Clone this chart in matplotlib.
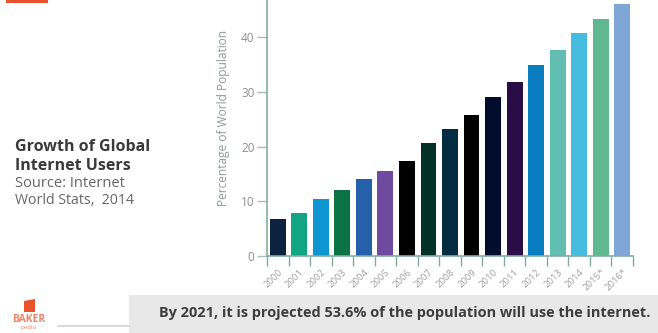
import matplotlib
matplotlib.use('Agg')
import matplotlib.pyplot as plt
from matplotlib.patches import Rectangle, Polygon

years = ['2000', '2001', '2002', '2003', '2004', '2005', '2006', '2007', '2008',
         '2009', '2010', '2011', '2012', '2013', '2014', '2015*', '2016*']
values = [6.8, 7.9, 10.4, 12.1, 14.1, 15.5, 17.4, 20.6, 23.3,
          25.8, 29.1, 31.8, 35.0, 37.7, 40.7, 43.3, 46.0]
bar_colors = ['#0c2340', '#12a583', '#0e96d2', '#0b7245', '#2560ab', '#6f4a9e',
              '#000000', '#04302a', '#032c42', '#000000', '#020c2c', '#2a0d47',
              '#0a7cc0', '#62bdb2', '#45bbde', '#5fb88f', '#7ea6d6']
y_ticks = [0, 10, 20, 30, 40]

W, H = 658, 333
plt.rcParams['font.family'] = ['Open Sans', 'DejaVu Sans']

fig = plt.figure(figsize=(W / 100, H / 100), dpi=100, facecolor='white')

# pixel box of the plot area
left, right, top, bottom = 267, 633, 0, 256
ax = fig.add_axes([left / W, 1 - bottom / H, (right - left) / W, (bottom - top) / H])

ax.bar(range(len(years)), values, width=0.74, color=bar_colors)
ax.set_xlim(-0.5, len(years) - 0.5)
ax.set_ylim(0, 46.8)
ax.patch.set_alpha(0)

axis_color = '#7fae9b'
for s in ['top', 'right']:
    ax.spines[s].set_visible(False)
for s in ['left', 'bottom']:
    ax.spines[s].set_color(axis_color)
    ax.spines[s].set_linewidth(1.2)

# x ticks sit on the bar boundaries, labels under the bars
ax.set_xticks([i - 0.5 for i in range(len(years) + 1)])
ax.set_xticklabels([])
ax.tick_params(axis='x', which='major', length=7, width=1, color=axis_color)
ax.set_xticks(range(len(years)), minor=True)
ax.set_xticklabels(years, minor=True, rotation=45, ha='right', rotation_mode='anchor',
                   fontsize=6.8, color='#a0a0a0')
ax.tick_params(axis='x', which='minor', length=0, pad=8)

ax.set_yticks(y_ticks)
ax.tick_params(axis='y', length=7, width=1, color='#a9bdb5', labelsize=8.5,
               labelcolor='#8f8f8f', pad=2)
ax.set_ylabel('Percentage of World Population', fontsize=8.6, color='#8f9a94')
ax.yaxis.set_label_coords((230 - left) / (right - left), 1 - (118 - top) / (bottom - top))

def px(x, y):
    return x / W, 1 - y / H

# grey strip along the bottom and the rule left of it
fig.patches.append(Rectangle(px(129, 333), (W - 129) / W, 38 / H, transform=fig.transFigure,
                             facecolor='#e8e8e8', edgecolor='none'))
fig.add_artist(plt.Line2D([58 / W, 129 / W], [1 - 326 / H] * 2, color='#d9cfcf', lw=1.2))
fig.text(*px(159, 313), 'By 2021, it is projected 53.6% of the population will use the internet.',
         fontsize=10.45, fontweight='bold', color='#3d3d3d', va='center')

# caption on the left
fig.text(*px(15, 147), 'Growth of Global', fontsize=11.5, fontweight='bold', color='#3a3a3a', va='center')
fig.text(*px(15, 166), 'Internet Users', fontsize=11.5, fontweight='bold', color='#3a3a3a', va='center')
fig.text(*px(15, 183), 'Source: Internet', fontsize=10.5, color='#666666', va='center')
fig.text(*px(15, 200), 'World Stats,  2014', fontsize=10.2, color='#666666', va='center')

# orange bar cut off at the top edge
fig.patches.append(Rectangle(px(6, 3), 42 / W, 3 / H, transform=fig.transFigure,
                             facecolor='#e8532b', edgecolor='none'))

# logo
logo_pts = [px(24, 301), px(35, 299), px(35, 312), px(24, 312)]
fig.patches.append(Polygon(logo_pts, closed=True, transform=fig.transFigure,
                           facecolor='#e8532b', edgecolor='none'))
fig.text(*px(28.5, 320), 'BAKER', fontsize=7.5, fontweight='bold', color='#ee8468', ha='center', va='center')
fig.text(*px(28.5, 328), 'pedia', fontsize=4.5, color='#ee8468', ha='center', va='center')

fig.savefig('out.png', dpi=100)
